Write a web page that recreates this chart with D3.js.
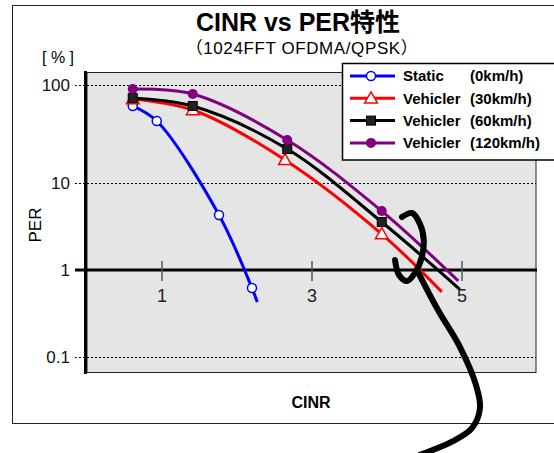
<!DOCTYPE html>
<html>
<head>
<meta charset="utf-8">
<script src="https://cdn.jsdelivr.net/npm/d3@7"></script>
<style>
  body { margin: 0; background: #fff; }
  text { font-family: "Liberation Sans", Arial, "Noto Sans CJK JP", sans-serif; }
</style>
</head>
<body>
<svg id="chart"></svg>
<script>
// series data (x = CINR, y = PER in %)
const seriesNames = ["Static", "Vehicler", "Vehicler", "Vehicler"];
const seriesSpeeds = ["(0km/h)", "(30km/h)", "(60km/h)", "(120km/h)"];
const seriesColors = ["#0000ff", "#ff0000", "#000000", "#800080"];
const seriesMarkers = ["circle", "triangle", "square", "dot"];

const staticX = [0.61, 0.93, 1.76, 2.2, 2.27];
const staticY = [61, 42.9, 4.29, 0.62, 0.43];
const v30X = [0.61, 1.41, 2.64, 3.93, 4.73];
const v30Y = [72, 55.6, 17.2, 2.59, 0.56];
const v60X = [0.61, 1.41, 2.67, 3.93, 4.97];
const v60Y = [73.7, 61, 22.2, 3.56, 0.6];
const v120X = [0.61, 1.41, 2.67, 3.93, 4.95];
const v120Y = [91, 80.9, 27.5, 4.76, 0.75];
// how many leading points carry a marker (the last point is only the line end)
const markedCount = [4, 4, 4, 4];

const yTicks = [0.1, 1, 10, 100];
const yTickLabels = ["0.1", "1", "10", "100"];
const xTicks = [1, 3, 5];

// hand drawn loop + tail annotation, in data units
const loopX = [4.2, 4.333, 4.44, 4.49, 4.46, 4.373, 4.267, 4.16, 4.107];
const loopY = [4.06, 4.52, 3.38, 2.21, 1.37, 0.924, 0.747, 0.876, 1.3];
const tailX = [4.413, 4.68, 4.973, 5.187, 5.24, 5.133, 4.88, 4.44];
const tailY = [0.948, 0.347, 0.13, 0.0475, 0.0259, 0.0152, 0.0108, 0.0075];

const W = 554, H = 453;
const svg = d3.select("#chart").attr("width", W).attr("height", H);

const x = d3.scaleLinear().domain([0, 6]).range([87, 537]);
const y = d3.scaleLog().domain([0.1, 1, 10, 100]).range([357, 270, 183, 85]);

// outer frame
svg.append("rect")
  .attr("x", 12.5).attr("y", 5.5).attr("width", 600).attr("height", 418)
  .attr("fill", "#fff").attr("stroke", "#222").attr("stroke-width", 1);

// plot area
svg.append("rect")
  .attr("x", 87).attr("y", 72.5).attr("width", 449).attr("height", 300)
  .attr("fill", "#e5e5e5").attr("stroke", "#222").attr("stroke-width", 1);

// grid lines (dotted), the 1% line is drawn solid as the x axis
svg.selectAll(".grid").data(yTicks.filter(d => d !== 1)).enter()
  .append("line")
  .attr("x1", 75).attr("x2", 536)
  .attr("y1", d => Math.round(y(d)) + 0.5).attr("y2", d => Math.round(y(d)) + 0.5)
  .attr("stroke", "#000").attr("stroke-width", 1).attr("stroke-dasharray", "2,2");

svg.append("line")
  .attr("x1", 75).attr("x2", 537).attr("y1", y(1)).attr("y2", y(1))
  .attr("stroke", "#000").attr("stroke-width", 3);

svg.append("line")
  .attr("x1", 85.5).attr("x2", 85.5).attr("y1", 71).attr("y2", 374)
  .attr("stroke", "#000").attr("stroke-width", 3);

// y labels
svg.selectAll(".ylab").data(yTicks).enter()
  .append("text")
  .attr("x", 70).attr("y", d => y(d)).attr("dy", "0.36em")
  .attr("text-anchor", "end").attr("font-size", 17).attr("fill", "#111")
  .text((d, i) => yTickLabels[i]);

// x ticks crossing the axis
svg.selectAll(".xtick").data(xTicks).enter()
  .append("line")
  .attr("x1", d => x(d)).attr("x2", d => x(d))
  .attr("y1", 261).attr("y2", 281)
  .attr("stroke", "#555").attr("stroke-width", 1.5);

svg.selectAll(".xlab").data(xTicks).enter()
  .append("text")
  .attr("x", d => x(d)).attr("y", 296).attr("dy", "0.36em")
  .attr("text-anchor", "middle").attr("font-size", 18).attr("fill", "#222")
  .text(d => d);

// titles
svg.append("text").attr("x", 298).attr("y", 31).attr("text-anchor", "middle")
  .attr("font-size", 25).attr("font-weight", "bold").text("CINR vs PER特性");
svg.append("text").attr("x", 302).attr("y", 54).attr("text-anchor", "middle")
  .attr("font-size", 17).attr("letter-spacing", 0.6).text("（1024FFT OFDMA/QPSK）");
svg.append("text").attr("x", 42).attr("y", 63)
  .attr("font-size", 16).text("[ % ]");
svg.append("text").attr("transform", "translate(41,225) rotate(-90)")
  .attr("text-anchor", "middle").attr("font-size", 17).text("PER");
svg.append("text").attr("x", 311).attr("y", 408).attr("text-anchor", "middle")
  .attr("font-size", 16).attr("font-weight", "bold").text("CINR");

// series
const allX = [staticX, v30X, v60X, v120X];
const allY = [staticY, v30Y, v60Y, v120Y];

const line = d3.line()
  .x(d => x(d[0])).y(d => y(d[1]))
  .curve(d3.curveCatmullRom.alpha(0.5));

function drawMarker(g, kind, color, cx, cy) {
  if (kind === "circle") {
    g.append("circle").attr("cx", cx).attr("cy", cy).attr("r", 4.5)
      .attr("fill", "#fff").attr("stroke", color).attr("stroke-width", 1.5);
  } else if (kind === "triangle") {
    g.append("path")
      .attr("d", d3.symbol(d3.symbolTriangle, 70)())
      .attr("transform", `translate(${cx},${cy + 1})`)
      .attr("fill", "#fff").attr("stroke", color).attr("stroke-width", 1.5);
  } else if (kind === "square") {
    g.append("rect").attr("x", cx - 4.5).attr("y", cy - 4.5)
      .attr("width", 9).attr("height", 9)
      .attr("fill", "#222").attr("stroke", color).attr("stroke-width", 1);
  } else {
    g.append("circle").attr("cx", cx).attr("cy", cy).attr("r", 5)
      .attr("fill", color);
  }
}

allX.forEach((xs, s) => {
  const pts = xs.map((v, i) => [v, allY[s][i]]);
  svg.append("path").attr("d", line(pts))
    .attr("fill", "none").attr("stroke", seriesColors[s]).attr("stroke-width", 3);
});
allX.forEach((xs, s) => {
  const g = svg.append("g");
  xs.slice(0, markedCount[s]).forEach((v, i) => {
    drawMarker(g, seriesMarkers[s], seriesColors[s], x(v), y(allY[s][i]));
  });
});

// annotation
const anno = d3.line().x(d => x(d[0])).y(d => y(d[1])).curve(d3.curveCatmullRom.alpha(0.5));
[[loopX, loopY], [tailX, tailY]].forEach(([xs, ys]) => {
  svg.append("path").attr("d", anno(xs.map((v, i) => [v, ys[i]])))
    .attr("fill", "none").attr("stroke", "#000").attr("stroke-width", 6)
    .attr("stroke-linecap", "round");
});

// legend
svg.append("rect")
  .attr("x", 342.5).attr("y", 63.5).attr("width", 260).attr("height", 96.5)
  .attr("fill", "#fff").attr("stroke", "#000").attr("stroke-width", 1.5);

seriesNames.forEach((name, i) => {
  const ly = 76 + i * 22.3;
  const g = svg.append("g");
  g.append("line").attr("x1", 350).attr("x2", 395).attr("y1", ly).attr("y2", ly)
    .attr("stroke", seriesColors[i]).attr("stroke-width", 3);
  drawMarker(g, seriesMarkers[i], seriesColors[i], 371, ly);
  g.append("text").attr("x", 403).attr("y", ly).attr("dy", "0.36em")
    .attr("font-size", 15).attr("font-weight", "bold").text(name);
  g.append("text").attr("x", 470).attr("y", ly).attr("dy", "0.36em")
    .attr("font-size", 15).attr("font-weight", "bold").text(seriesSpeeds[i]);
});
</script>
</body>
</html>
